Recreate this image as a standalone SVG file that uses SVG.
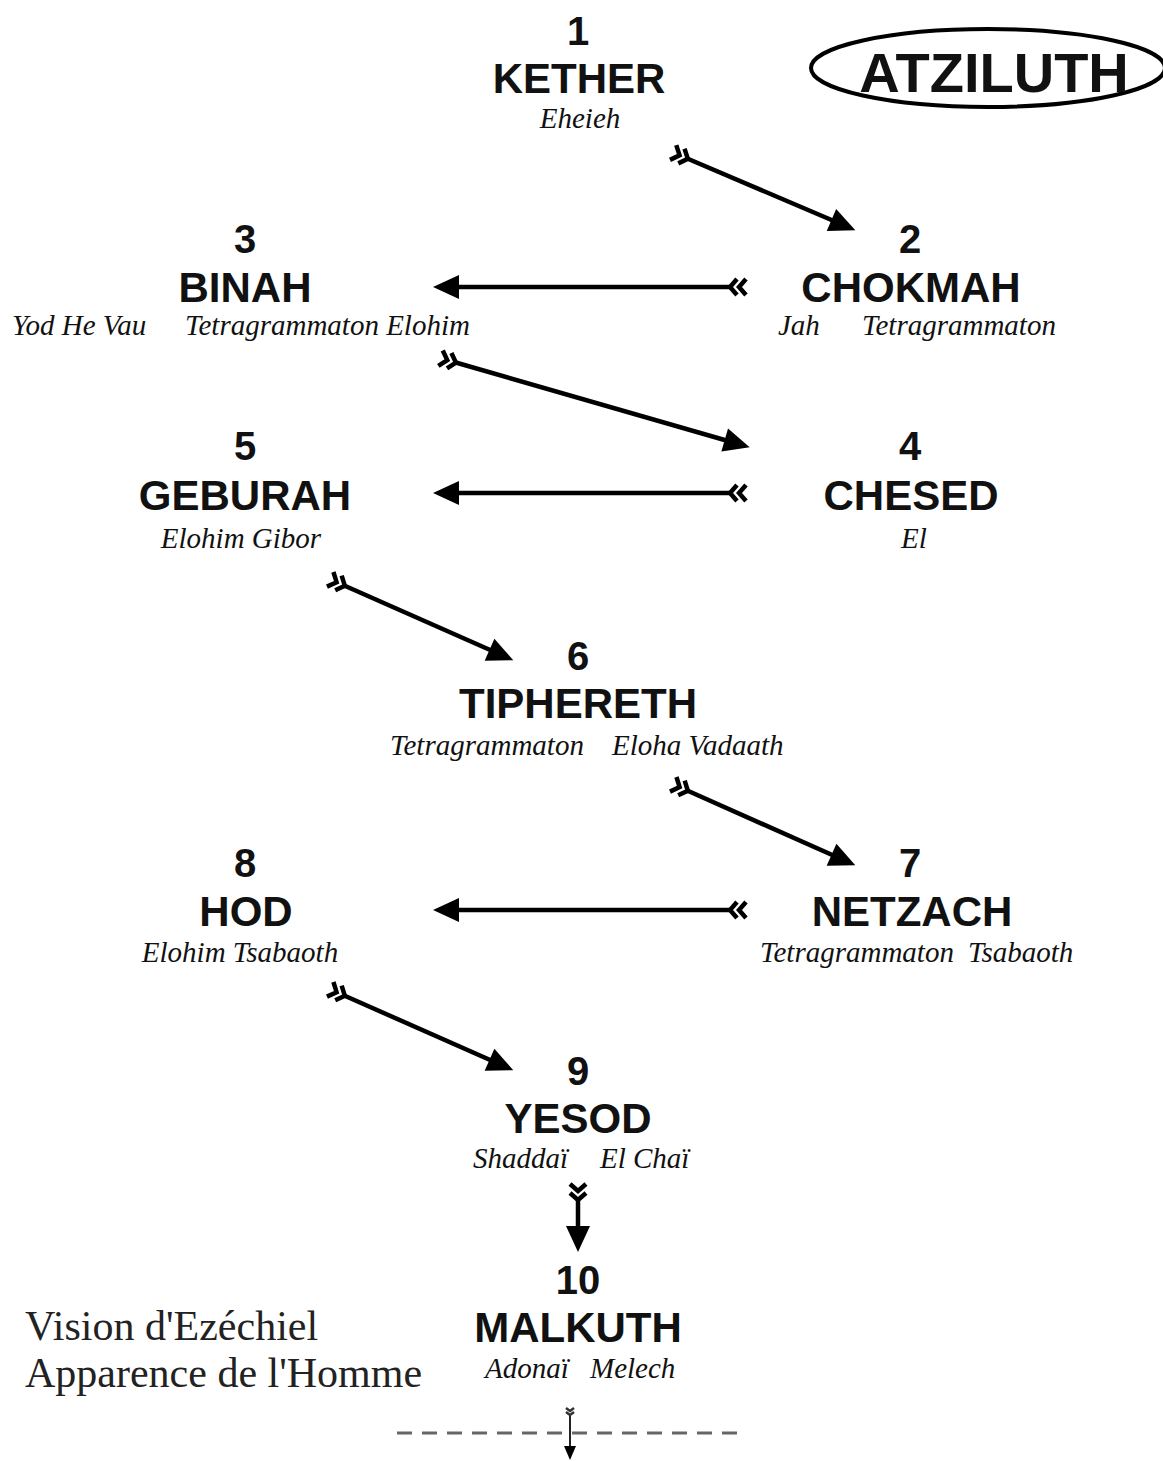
<svg xmlns="http://www.w3.org/2000/svg" width="1163" height="1461" viewBox="0 0 1163 1461">
<style>
.num{font-family:"Liberation Sans",Arial,sans-serif;font-weight:bold;font-size:40px;fill:#111;text-anchor:middle}
.name{font-family:"Liberation Sans",Arial,sans-serif;font-weight:bold;font-size:42px;fill:#111;text-anchor:middle}
.god{font-family:"Liberation Serif","Times New Roman",serif;font-style:italic;font-size:29px;fill:#111}
.vis{font-family:"Liberation Serif","Times New Roman",serif;font-size:42px;fill:#222}
.conn{stroke:#000;stroke-width:4.5;fill:none;marker-end:url(#head);marker-start:url(#fletch)}
</style>
<defs>
<marker id="head" viewBox="-20 -14 30 28" refX="0" refY="0" markerWidth="30" markerHeight="28" markerUnits="userSpaceOnUse" orient="auto">
<path d="M8,0 L-18,-12 L-18,12 Z" fill="#000"/>
</marker>
<marker id="fletch" viewBox="-20 -14 30 28" refX="0" refY="0" markerWidth="30" markerHeight="28" markerUnits="userSpaceOnUse" orient="auto">
<path d="M-5,-8 L2,0 L-5,8 M-14,-8 L-7,0 L-14,8" fill="none" stroke="#000" stroke-width="4.5"/>
</marker>
<marker id="headS" viewBox="-12 -8 20 16" refX="0" refY="0" markerWidth="20" markerHeight="16" markerUnits="userSpaceOnUse" orient="auto">
<path d="M4,0 L-10,-6 L-10,6 Z" fill="#000"/>
</marker>
<marker id="fletchS" viewBox="-10 -8 16 16" refX="0" refY="0" markerWidth="16" markerHeight="16" markerUnits="userSpaceOnUse" orient="auto">
<path d="M-2,-4 L1,0 L-2,4 M-6,-4 L-3,0 L-6,4" fill="none" stroke="#333" stroke-width="2.5"/>
</marker>
</defs>
<rect width="1163" height="1461" fill="#fff"/>

<g id="atziluth">
<ellipse cx="988" cy="68" rx="177" ry="39" fill="none" stroke="#000" stroke-width="4"/>
<text x="994" y="92" font-family="Liberation Sans,Arial,sans-serif" font-weight="bold" font-size="56" text-anchor="middle" fill="#111">ATZILUTH</text>
</g>

<g id="n1">
<text class="num" x="578" y="45">1</text>
<text class="name" x="579" y="93">KETHER</text>
<text class="god" x="580" y="128" text-anchor="middle">Eheieh</text>
</g>
<g id="n2">
<text class="num" x="910" y="253">2</text>
<text class="name" x="911" y="302">CHOKMAH</text>
<text class="god" x="778" y="335">Jah</text>
<text class="god" x="862" y="335">Tetragrammaton</text>
</g>
<g id="n3">
<text class="num" x="245" y="253">3</text>
<text class="name" x="245" y="302">BINAH</text>
<text class="god" x="12" y="335">Yod He Vau</text>
<text class="god" x="185" y="335">Tetragrammaton Elohim</text>
</g>
<g id="n4">
<text class="num" x="910" y="460">4</text>
<text class="name" x="911" y="510">CHESED</text>
<text class="god" x="914" y="548" text-anchor="middle">El</text>
</g>
<g id="n5">
<text class="num" x="245" y="460">5</text>
<text class="name" x="245" y="510">GEBURAH</text>
<text class="god" x="241" y="548" text-anchor="middle">Elohim Gibor</text>
</g>
<g id="n6">
<text class="num" x="578" y="670">6</text>
<text class="name" x="578" y="718">TIPHERETH</text>
<text class="god" x="390" y="755">Tetragrammaton</text>
<text class="god" x="612" y="755">Eloha Vadaath</text>
</g>
<g id="n7">
<text class="num" x="910" y="877">7</text>
<text class="name" x="912" y="926">NETZACH</text>
<text class="god" x="760" y="962">Tetragrammaton</text>
<text class="god" x="968" y="962">Tsabaoth</text>
</g>
<g id="n8">
<text class="num" x="245" y="877">8</text>
<text class="name" x="246" y="926">HOD</text>
<text class="god" x="240" y="962" text-anchor="middle">Elohim Tsabaoth</text>
</g>
<g id="n9">
<text class="num" x="578" y="1085">9</text>
<text class="name" x="578" y="1133">YESOD</text>
<text class="god" x="473" y="1168">Shaddaï</text>
<text class="god" x="600" y="1168">El Chaï</text>
</g>
<g id="n10">
<text class="num" x="578" y="1294">10</text>
<text class="name" x="578" y="1342">MALKUTH</text>
<text class="god" x="485" y="1378">Adonaï</text>
<text class="god" x="590" y="1378">Melech</text>
</g>

<g id="vision">
<text class="vis" x="25" y="1340">Vision d'Ezéchiel</text>
<text class="vis" x="25" y="1387">Apparence de l'Homme</text>
</g>

<g id="connectors">
<line class="conn" x1="686" y1="158" x2="848" y2="227"/>
<line class="conn" x1="732" y1="287" x2="441" y2="287"/>
<line class="conn" x1="454" y1="362" x2="742" y2="445"/>
<line class="conn" x1="732" y1="493" x2="441" y2="493"/>
<line class="conn" x1="343" y1="585" x2="506" y2="657"/>
<line class="conn" x1="686" y1="790" x2="848" y2="862"/>
<line class="conn" x1="732" y1="910" x2="441" y2="910"/>
<line class="conn" x1="343" y1="995" x2="506" y2="1067"/>
<line class="conn" x1="578" y1="1198" x2="578" y2="1244"/>
<line x1="397" y1="1433" x2="740" y2="1433" stroke="#666" stroke-width="3" stroke-dasharray="15 10"/>
<line x1="570" y1="1414" x2="570" y2="1456" stroke="#222" stroke-width="2" marker-start="url(#fletchS)" marker-end="url(#headS)"/>
</g>
</svg>
